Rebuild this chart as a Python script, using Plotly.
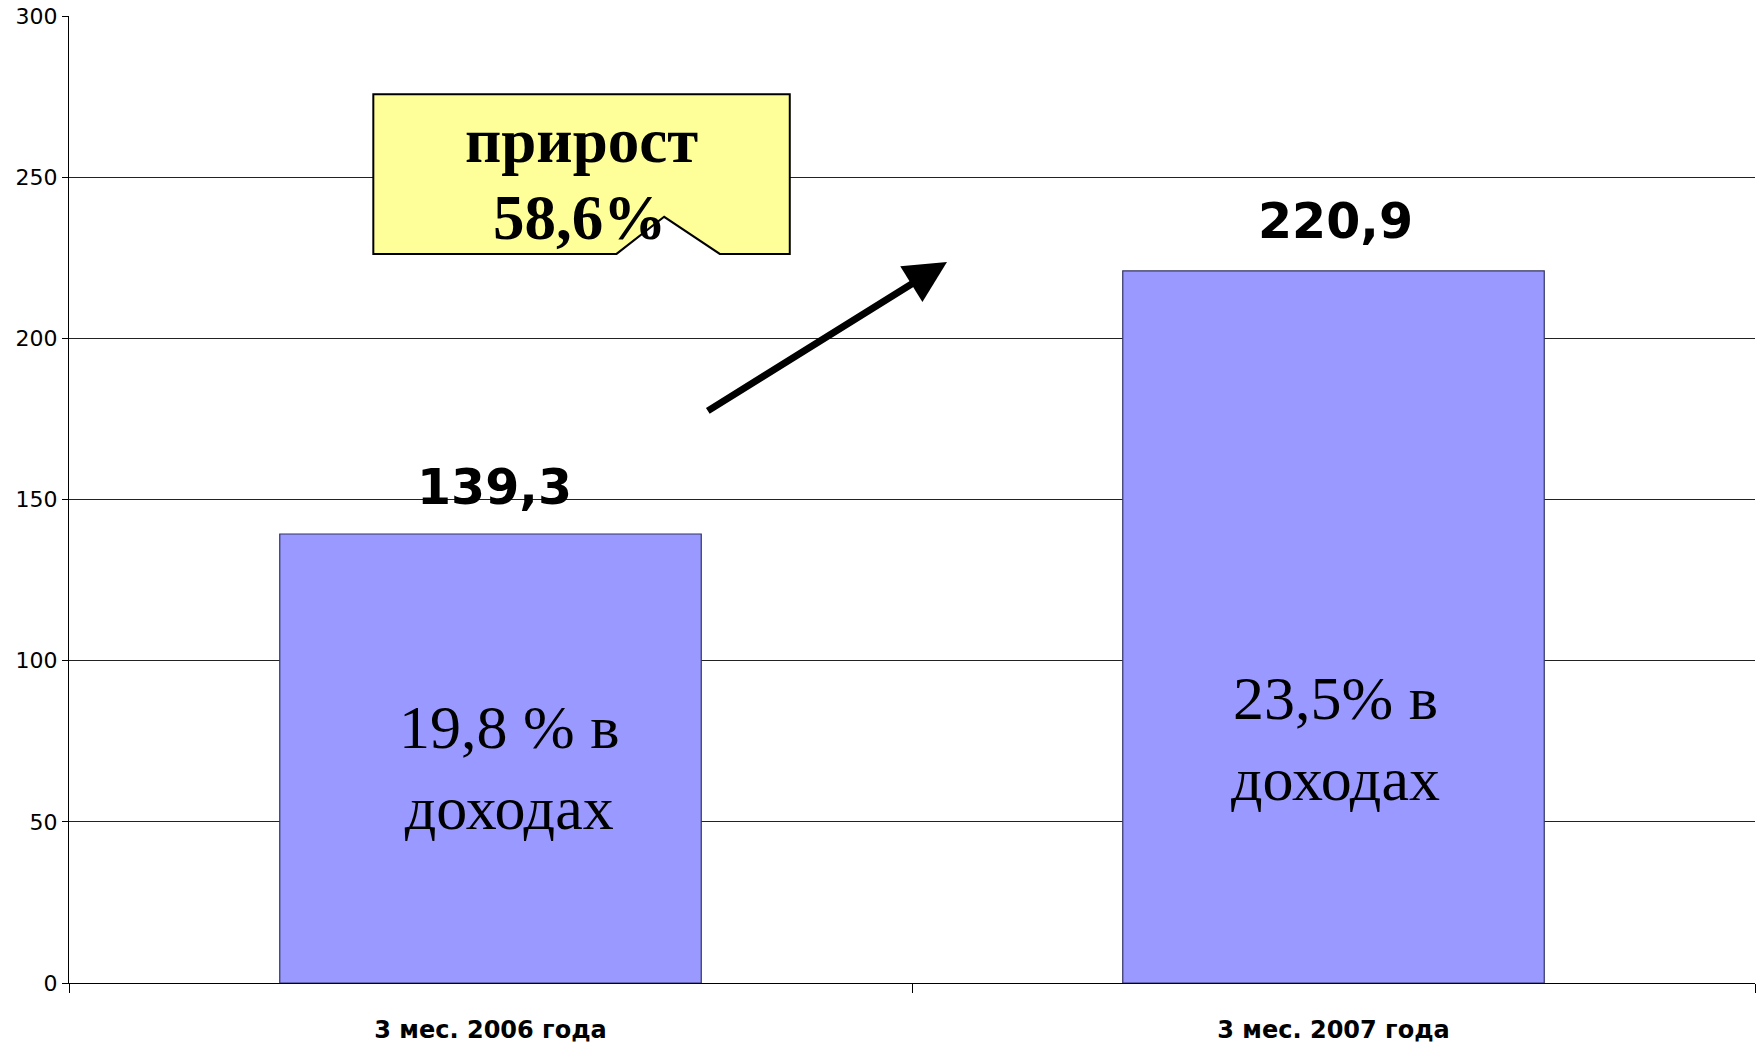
import plotly.graph_objects as go

categories = ["3 мес. 2006 года", "3 мес. 2007 года"]
values = [139.3, 220.9]
value_labels = ["139,3", "220,9"]
share_labels = ["19,8 % в<br>доходах", "23,5% в<br>доходах"]
y_ticks = [0, 50, 100, 150, 200, 250, 300]
growth_line1 = "прирост"
growth_line2 = "58,6%"

fig = go.Figure()
fig.add_trace(go.Bar(
    x=categories, y=values,
    marker=dict(color="#9999FF", line=dict(color="#333366", width=1.2)),
    width=0.5,
    hoverinfo="skip",
))

ann = []
# value labels above bars
for i, (c, lab) in enumerate(zip(categories, value_labels)):
    ann.append(dict(x=i, y=values[i], xref="x", yref="y", text="<b>" + lab + "</b>",
                    showarrow=False, yanchor="middle", yshift=46 if i == 0 else 49,
                    xshift=4 if i == 0 else 2,
                    font=dict(family="DejaVu Sans", size=49, color="black")))
# inner text
inner_y = [67, 76]
inner_xshift = [18, 2]
for i, t in enumerate(share_labels):
    ann.append(dict(x=i, y=inner_y[i], xref="x", yref="y", text=t, showarrow=False,
                    xshift=inner_xshift[i],
                    font=dict(family="Liberation Serif", size=62, color="black")))
# callout text
ann.append(dict(x=0.1085, y=261.2, xref="x", yref="y", text="<b>" + growth_line1 + "</b>",
                showarrow=False, font=dict(family="Liberation Serif", size=63, color="black")))
ann.append(dict(x=0.106, y=237.2, xref="x", yref="y", text="<b>" + growth_line2 + "</b>",
                showarrow=False, font=dict(family="Liberation Serif", size=63, color="black")))
# arrow
ann.append(dict(x=0.5415, y=223.7, xref="x", yref="y", ax=0.256, ay=177.2,
                axref="x", ayref="y", text="", showarrow=True, arrowhead=2,
                arrowsize=1.2, arrowwidth=7, arrowcolor="black", standoff=0))

# callout box with notch (data coords)
L, R, T, B = -0.139, 0.355, 275.7, 226.2
n1, n2, n3, ny = 0.1495, 0.206, 0.272, 237.7
path = f"M {L},{B} L {L},{T} L {R},{T} L {R},{B} L {n3},{B} L {n2},{ny} L {n1},{B} Z"
fig.add_shape(type="path", path=path, xref="x", yref="y",
              fillcolor="#FFFF99", line=dict(color="black", width=2), layer="above")

fig.update_layout(
    width=1764, height=1045,
    margin=dict(l=69, r=9, t=16, b=62),
    paper_bgcolor="white", plot_bgcolor="white",
    showlegend=False,
    bargap=0.5,
    annotations=ann,
    font=dict(family="DejaVu Sans", color="black"),
)
fig.update_yaxes(range=[0, 300], tickvals=y_ticks, showgrid=True, gridcolor="#222222",
                 gridwidth=1, showline=True, linecolor="black", linewidth=1,
                 ticks="outside", ticklen=6, tickcolor="black",
                 tickfont=dict(family="DejaVu Sans", size=22, color="black"),
                 zeroline=False, fixedrange=True, automargin=False)
fig.update_xaxes(range=[-0.5, 1.5], showline=True, linecolor="black", linewidth=1,
                 ticks="outside", ticklen=9, tickcolor="black", tickson="boundaries",
                 tickfont=dict(family="DejaVu Sans", size=24, color="black"),
                 tickprefix="<b>", ticksuffix="</b>", ticklabelstandoff=25,
                 showgrid=False, fixedrange=True, automargin=False)

fig.write_html("out.html", config={"displayModeBar": False},
               post_script="document.body.style.margin='0';document.body.style.overflow='hidden';")
